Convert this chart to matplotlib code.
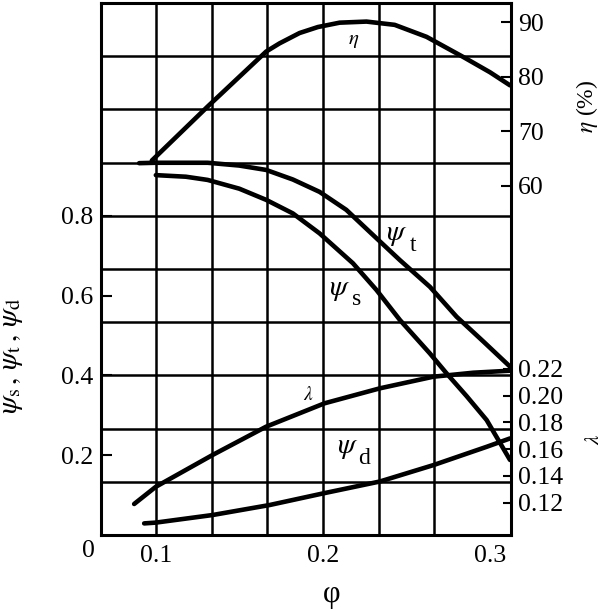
import matplotlib.pyplot as plt
import numpy as np

plt.rcParams['font.family'] = ['Liberation Serif', 'DejaVu Serif']
plt.rcParams['mathtext.fontset'] = 'stix'

# efficiency curve (right axis, %)
phi_eta = [0.0974, 0.1308, 0.1659, 0.1739, 0.1859, 0.1969, 0.2099, 0.2260, 0.2429, 0.2620, 0.2840, 0.3000, 0.3120]
eta = [64.6, 74.5, 84.6, 86.1, 88.0, 89.1, 89.9, 90.1, 89.5, 87.3, 83.6, 80.8, 78.4]

# total pressure coefficient
phi_t = [0.0898, 0.0998, 0.1308, 0.1498, 0.1659, 0.1819, 0.1979, 0.2139, 0.2299, 0.2460, 0.2640, 0.2800, 0.2960, 0.3120]
psi_t = [0.932, 0.933, 0.933, 0.926, 0.915, 0.891, 0.860, 0.815, 0.752, 0.689, 0.622, 0.547, 0.485, 0.422]

# static pressure coefficient
phi_s = [0.0998, 0.1178, 0.1308, 0.1498, 0.1659, 0.1819, 0.1979, 0.2179, 0.2320, 0.2460, 0.2640, 0.2740, 0.2860, 0.2980, 0.3120]
psi_s = [0.902, 0.898, 0.890, 0.868, 0.840, 0.806, 0.756, 0.681, 0.614, 0.539, 0.455, 0.405, 0.348, 0.288, 0.188]

# power coefficient (right axis)
phi_lam = [0.0868, 0.0998, 0.1338, 0.1659, 0.2009, 0.2340, 0.2660, 0.2900, 0.3120]
lam = [0.1189, 0.1318, 0.1556, 0.1768, 0.1943, 0.2055, 0.2142, 0.2172, 0.2187]

# dynamic pressure coefficient
phi_d = [0.0928, 0.0998, 0.1338, 0.1679, 0.2009, 0.2340, 0.2660, 0.2980, 0.3120]
psi_d = [0.029, 0.031, 0.050, 0.075, 0.105, 0.134, 0.175, 0.221, 0.242]

x_ticks = [0.1, 0.2, 0.3]
psi_ticks = [0.2, 0.4, 0.6, 0.8]
eta_ticks = [60, 70, 80, 90]
lam_ticks = [0.12, 0.14, 0.16, 0.18, 0.20, 0.22]

fs = 18.5
lw = 3.3
curve = dict(color='black', lw=lw, solid_capstyle='round', solid_joinstyle='round')

fig = plt.figure(figsize=(6.06, 6.10), dpi=100)
ax = fig.add_axes([0.166, 0.123, 0.677, 0.872])
ax.set_xlim(0.0667, 0.3125)
ax.set_ylim(0, 4 / 3)

# graph-paper grid
for gx in np.arange(1, 9) / 30:
    if 0.07 < gx < 0.31:
        ax.axvline(gx, color='black', lw=1.8, zorder=1)
for gy in np.arange(1, 10) * 2 / 15:
    ax.axhline(gy, color='black', lw=1.8, zorder=1)

for s in ax.spines.values():
    s.set_linewidth(2.2)

ax.plot(phi_t, psi_t, **curve)
ax.plot(phi_s, psi_s, **curve)
ax.plot(phi_d, psi_d, **curve)

ax.set_xticks(x_ticks)
ax.set_xticklabels(['0.1', '0.2', '0.3'])
ax.set_yticks(psi_ticks)
ax.set_yticklabels(['0.2', '0.4', '0.6', '0.8'])
ax.tick_params(axis='x', length=0, pad=7, labelsize=fs)
ax.tick_params(axis='y', direction='in', length=8, width=1.5, pad=5, labelsize=fs)
ax.text(-0.03, -0.031, '0', transform=ax.transAxes, ha='center', va='center', fontsize=fs)

ax.text(0.564, -0.111, 'φ', transform=ax.transAxes, ha='center', va='center', fontsize=22)
ax.set_ylabel(r'$\psi_{\rm s}\,,\,\psi_{\rm t}\,,\,\psi_{\rm d}$', fontsize=21)
ax.yaxis.set_label_coords(-0.185, 0.336)

# efficiency axis
ax_eta = ax.twinx()
ax_eta.set_frame_on(False)
ax_eta.set_ylim(-4.1, 93.5)
ax_eta.plot(phi_eta, eta, **curve)
ax_eta.set_yticks(eta_ticks)
ax_eta.set_yticklabels([str(v) for v in eta_ticks])
ax_eta.tick_params(axis='y', direction='in', length=7, width=1.5, pad=5, labelsize=fs)
ax_eta.text(1.185, 0.806, r'$\eta$ (%)', transform=ax.transAxes, rotation=90,
            ha='center', va='center', fontsize=17)

# power coefficient axis
ax_lam = ax.twinx()
ax_lam.set_frame_on(False)
ax_lam.set_ylim(0.0957, 0.494)
ax_lam.plot(phi_lam, lam, **curve)
ax_lam.set_yticks(lam_ticks)
ax_lam.set_yticklabels(['%.2f' % v for v in lam_ticks])
ax_lam.tick_params(axis='y', direction='in', length=6, width=1.5, pad=5, labelsize=fs)
ax_lam.text(1.205, 0.18, r'$\lambda$', transform=ax.transAxes, rotation=90,
            ha='center', va='center', fontsize=15)

# curve labels: psi with a large upright subscript as in the source figure
def psi_label(x, y, sub):
    ax.text(x, y, r'$\psi$', fontsize=21, ha='center', va='center')
    ax.text(x + 0.0098, y - 0.026, sub, fontsize=17, ha='center', va='center')

ax.text(0.2183, 1.239, r'$\eta$', fontsize=15, ha='center', va='center')
psi_label(0.2440, 0.752, 't')
psi_label(0.2100, 0.615, 's')
ax.text(0.1909, 0.351, r'$\lambda$', fontsize=14, ha='center', va='center')
psi_label(0.2145, 0.218, 'd')

fig.savefig('out.png', dpi=100)
